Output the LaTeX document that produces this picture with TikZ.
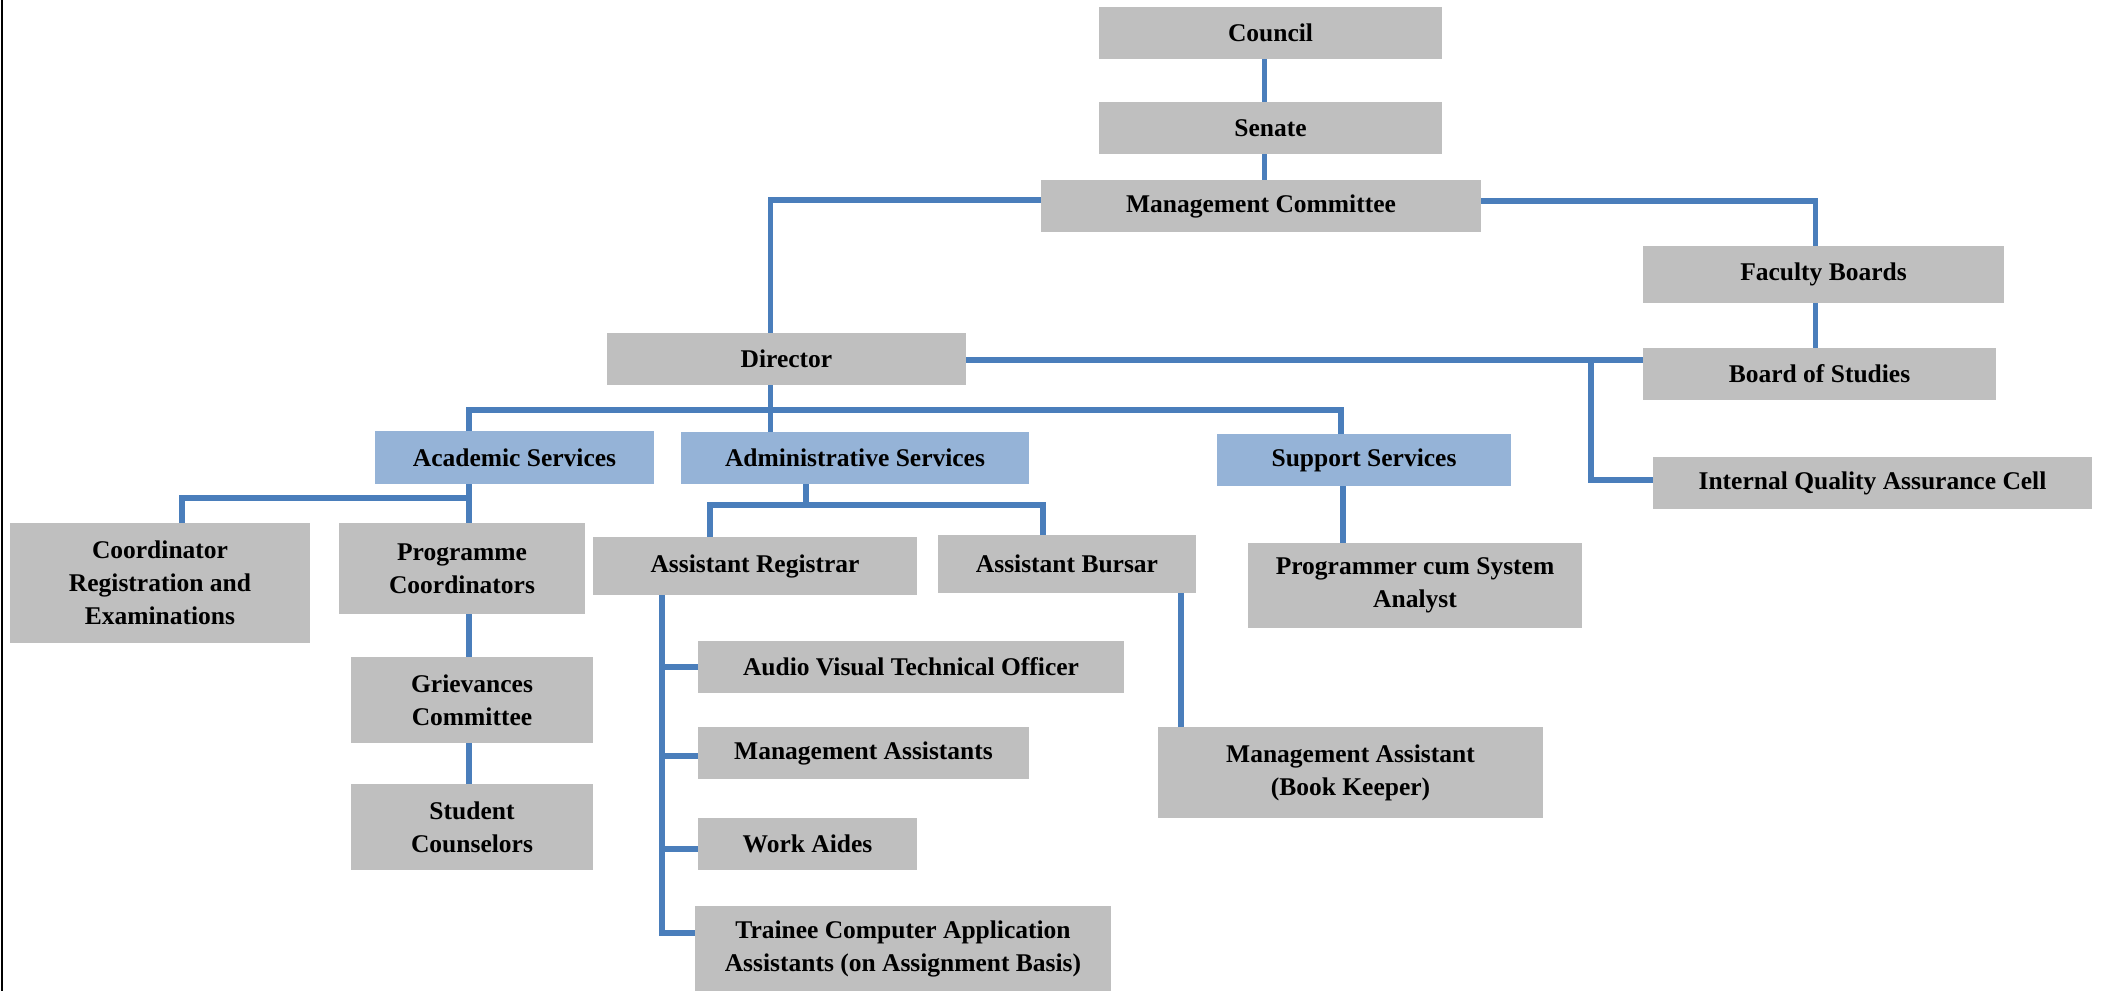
\documentclass[tikz,border=0pt]{standalone}
\usepackage{fontspec}
\setmainfont{Liberation Serif}
\definecolor{boxgray}{RGB}{191,191,191}
\definecolor{boxblue}{RGB}{149,179,215}
\definecolor{linkblue}{RGB}{74,126,187}
\begin{document}
\begin{tikzpicture}[x=1pt,y=-1pt,
  box/.style={fill=boxgray,draw=none,inner sep=0pt,align=center,
    font=\fontsize{25.5}{33}\selectfont\bfseries},
  svc/.style={box,fill=boxblue},
  link/.style={draw=linkblue,line width=5.5pt}]
\useasboundingbox (0,0) rectangle (2101,991);
% page border on the left
\draw[line width=2pt] (2,0) -- (2,991);

% governing bodies
\node[box,minimum width=343,minimum height=52] (council) at (1270.5,33) {Council};
\node[box,minimum width=343,minimum height=52] (senate) at (1270.5,128) {Senate};
\node[box,minimum width=440,minimum height=52] (mc) at (1261,206) {Management Committee};
\node[box,minimum width=361,minimum height=57] (faculty) at (1823.5,274.5) {Faculty Boards};
\node[box,minimum width=353,minimum height=52] (bos) at (1819.5,374) {Board of Studies};
\node[box,minimum width=439,minimum height=52] (iqac) at (1872.5,483) {Internal Quality Assurance Cell};
\node[box,minimum width=359,minimum height=52] (director) at (786.5,359) {Director};

% service divisions
\node[svc,minimum width=279,minimum height=53] (acad) at (514.5,457.5) {Academic Services};
\node[svc,minimum width=348,minimum height=52] (admin) at (855,458) {Administrative Services};
\node[svc,minimum width=294,minimum height=52] (support) at (1364,460) {Support Services};

% academic services
\node[box,minimum width=300,minimum height=120] (coordreg) at (160,583) {Coordinator\\Registration and\\Examinations};
\node[box,minimum width=246,minimum height=91] (progcoord) at (462,568.5) {Programme\\Coordinators};
\node[box,minimum width=242,minimum height=86] (griev) at (472,700) {Grievances\\Committee};
\node[box,minimum width=242,minimum height=86] (student) at (472,827) {Student\\Counselors};

% administrative services
\node[box,minimum width=324,minimum height=58] (areg) at (755,566) {Assistant Registrar};
\node[box,minimum width=258,minimum height=58] (abursar) at (1067,564) {Assistant Bursar};
\node[box,minimum width=426,minimum height=52] (avto) at (911,667) {Audio Visual Technical Officer};
\node[box,minimum width=331,minimum height=52] (mas) at (863.5,753) {Management Assistants};
\node[box,minimum width=219,minimum height=52] (work) at (807.5,844) {Work Aides};
\node[box,minimum width=416,minimum height=85] (trainee) at (903,948.5) {Trainee Computer Application\\Assistants (on Assignment Basis)};
\node[box,minimum width=385,minimum height=91] (mab) at (1350.5,772.5) {Management Assistant\\(Book Keeper)};

% support services
\node[box,minimum width=334,minimum height=85] (prog) at (1415,585.5) {Programmer cum System\\Analyst};

% connectors
\draw[link] ([xshift=-6]council.south) -- ([xshift=-6]senate.north);
\draw[link] ([xshift=-6]senate.south) -- ([xshift=-6]senate.south |- mc.north);
\draw[link] ([yshift=6]mc.west) -| ([xshift=-16]director.north);
\draw[link] ([yshift=5]mc.east) -| ([xshift=-8]faculty.north);
\draw[link] ([xshift=-8]faculty.south) -- ([xshift=-8]faculty.south |- bos.north);

\coordinate (iqj) at (1591,360);
\draw[link] (director.east |- iqj) -- (iqj -| bos.west);
\draw[link] (iqj) |- ([yshift=3]iqac.west);

\coordinate (dbus) at (770.5,410);
\draw[link] ([xshift=-16]director.south) -- ([xshift=-16]director.south |- admin.north);
\draw[link] ([xshift=-45.5]acad.north) |- (dbus) -| ([xshift=-23]support.north);

\coordinate (abus) at (469,498);
\draw[link] ([xshift=-45.5]acad.south) -- ([xshift=7]progcoord.north);
\draw[link] (abus) -| ([xshift=22]coordreg.north);
\draw[link] ([xshift=7]progcoord.south) -- ([xshift=-3]griev.north);
\draw[link] ([xshift=-3]griev.south) -- ([xshift=-3]student.north);

\coordinate (rbus) at (806,505);
\draw[link] ([xshift=-49]admin.south) -- (rbus);
\draw[link] ([xshift=-45]areg.north) |- (rbus) -| ([xshift=-24]abursar.north);

\coordinate (ax) at ([xshift=-93]areg.south);
\draw[link] (ax) |- ([yshift=15.5]trainee.west);
\draw[link] (ax |- avto.west) -- (avto.west);
\draw[link] ([yshift=-3]ax |- mas.west) -- ([yshift=-3]mas.west);
\draw[link] ([yshift=-5]ax |- work.west) -- ([yshift=-5]work.west);

\draw[link] ([xshift=114]abursar.south) -- ([xshift=114]abursar.south |- mab.north);
\draw[link] ([xshift=-21]support.south) -- ([xshift=-21]support.south |- prog.north);
\end{tikzpicture}
\end{document}
